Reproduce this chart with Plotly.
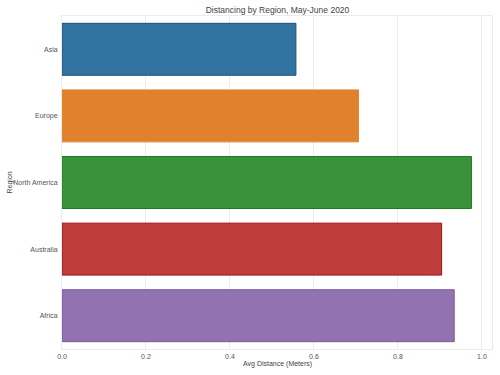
import plotly.graph_objects as go

regions = ["Asia", "Europe", "North America", "Australia", "Africa"]
avg_distance = [0.557, 0.706, 0.975, 0.904, 0.934]
fill_colors = ["#3274a1", "#e1812c", "#3a923a", "#c03d3e", "#9372b2"]
edge_colors = ["#1f4f78", "#e1812c", "#1a7a1a", "#a01010", "#7a5a9a"]
x_ticks = [0.0, 0.2, 0.4, 0.6, 0.8, 1.0]
x_tick_labels = ["0.0", "0.2", "0.4", "0.6", "0.8", "1.0"]

W, H = 500, 375
ML, MR, MT, MB = 62, 8, 16, 26
plot_w = W - ML - MR
plot_h = H - MT - MB

fig = go.Figure()
fig.add_trace(go.Bar(
    x=avg_distance, y=regions, orientation="h",
    marker=dict(color=fill_colors, line=dict(color=edge_colors, width=1)),
    width=0.78, hoverinfo="skip",
))

font = "Liberation Sans, Arial, sans-serif"
fig.update_layout(
    width=W, height=H,
    margin=dict(l=ML, r=MR, t=MT, b=MB),
    paper_bgcolor="white", plot_bgcolor="white",
    showlegend=False,
    font=dict(family=font, size=7, color="#444444"),
    title=dict(text="Distancing by Region, May-June 2020", x=(277.5) / W, xanchor="center",
               y=1 - 10 / H, yanchor="middle", font=dict(size=8.5, color="#444444")),
    xaxis=dict(range=[0, 1.024], tickvals=x_ticks, ticktext=x_tick_labels,
               showgrid=True, gridcolor="#ebebeb", gridwidth=1, zeroline=False,
               showline=True, linecolor="#ebebeb", mirror=True, ticks="",
               automargin=False, ticklabelstandoff=1,
               tickfont=dict(size=7, color="#555555")),
    yaxis=dict(categoryorder="array", categoryarray=regions, autorange="reversed",
               showgrid=False, zeroline=False,
               showline=True, linecolor="#ebebeb", mirror=True, ticks="",
               automargin=False, ticklabelstandoff=2,
               tickfont=dict(size=7, color="#555555")),
    annotations=[
        dict(text="Avg Distance (Meters)", xref="paper", yref="paper",
             x=0.5, y=-(364.5 - (H - MB)) / plot_h, xanchor="center", yanchor="middle",
             showarrow=False, font=dict(size=7, color="#444444")),
        dict(text="Region", textangle=-90, xref="paper", yref="paper",
             x=-(ML - 9) / plot_w, y=0.5, xanchor="center", yanchor="middle",
             showarrow=False, font=dict(size=7, color="#444444")),
    ],
)
fig.write_html("out.html", config={"displayModeBar": False},
               post_script="document.body.style.margin='0';")
